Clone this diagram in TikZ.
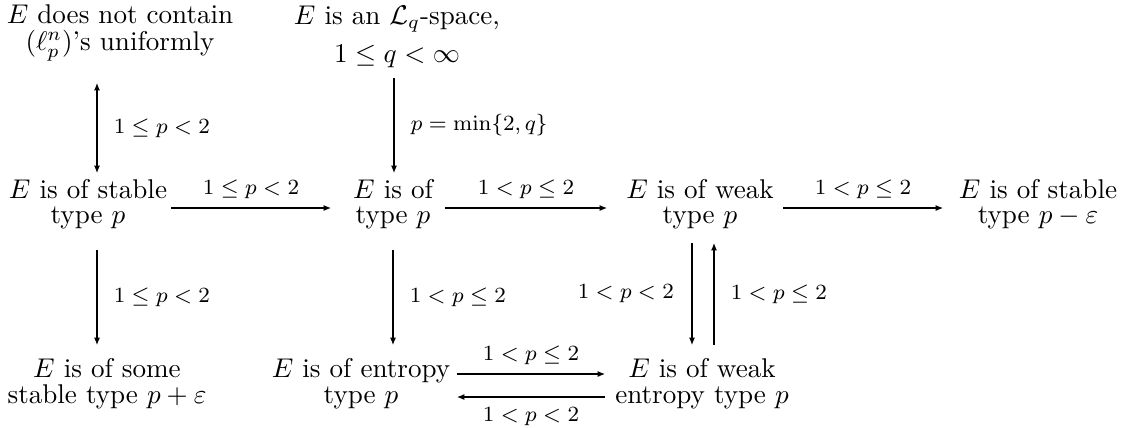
\documentclass[tikz,border=0pt]{standalone}
\usetikzlibrary{arrows.meta}
\begin{document}
\begin{tikzpicture}[x=0.369pt,y=-0.369pt,
  box/.style={align=center,inner sep=0pt,font=\fontsize{10}{9.1}\selectfont},
  lab/.style={inner sep=0pt,font=\footnotesize},
  arr/.style={line width=0.4pt,-{Latex[length=2.7pt,width=2.2pt]}},
  darr/.style={line width=0.4pt,{Latex[length=2.7pt,width=2.2pt]}-{Latex[length=2.7pt,width=2.2pt]}},
  rlab/.style={lab,midway,anchor=west,xshift=6pt},
  llab/.style={lab,midway,anchor=east,xshift=-6.5pt},
  alab/.style={lab,midway,yshift=7pt},
  blab/.style={lab,midway,yshift=-7.4pt}]
\useasboundingbox (0,0) rectangle (1135,427);
% nodes
\node[box] (A) at (120,33) {$E$ does not contain\\[0.8pt]$(\ell_p^n)$'s uniformly};
\node[box] (B) at (397,37) {$E$ is an $\mathcal{L}_q$-space,\\[3.8pt]$1\le q<\infty$};
\node[box] (C) at (88,204) {$E$ is of stable\\type $p$};
\node[box] (D) at (393,204) {$E$ is of\\type $p$};
\node[box] (F) at (700,204) {$E$ is of weak\\type $p$};
\node[box] (G) at (1038,204) {$E$ is of stable\\type $p-\varepsilon$};
\node[box] (H) at (107,383.5) {$E$ is of some\\[0.7pt]stable type $p+\varepsilon$};
\node[box] (I) at (361,383.5) {$E$ is of entropy\\[0.7pt]type $p$};
\node[box] (J) at (702,383.5) {$E$ is of weak\\[0.7pt]entropy type $p$};
% vertical connectors
\draw[darr] ([shift={(-23,50)}]A.center) -- ([shift={(9,-31)}]C.center)
  node[rlab] (l1) {$1\le p<2$};
\draw[arr] ([shift={(-3,41)}]B.center) -- ([shift={(1,-31)}]D.center)
  node[rlab] (l2) {$p=\min\{2,q\}$};
\draw[arr] ([shift={(9,46)}]C.center) -- ([shift={(-10,-38.5)}]H.center)
  node[rlab] (l3) {$1\le p<2$};
\draw[arr] ([shift={(0,46)}]D.center) -- ([shift={(32,-38.5)}]I.center)
  node[rlab] (l4) {$1<p\le 2$};
\draw[arr] ([shift={(-8,39)}]F.center) -- ([shift={(-10,-38.5)}]J.center)
  node[llab] (l5) {$1<p<2$};
\draw[arr] ([shift={(12,-38.5)}]J.center) -- ([shift={(14,39)}]F.center)
  node[rlab] (l6) {$1<p\le 2$};
% horizontal connectors
\draw[arr] ([shift={(83,4)}]C.center) -- ([shift={(-62,4)}]D.center)
  node[alab] (l7) {$1\le p<2$};
\draw[arr] ([shift={(52,4)}]D.center) -- ([shift={(-93,4)}]F.center)
  node[alab] (l8) {$1<p\le 2$};
\draw[arr] ([shift={(83,4)}]F.center) -- ([shift={(-95,4)}]G.center)
  node[alab] (l9) {$1<p\le 2$};
\draw[arr] ([shift={(96,-9.5)}]I.center) -- ([shift={(-97,-9.5)}]J.center)
  node[alab] (l10) {$1<p\le 2$};
\draw[arr] ([shift={(-97,13.5)}]J.center) -- ([shift={(96,13.5)}]I.center)
  node[blab] (l11) {$1<p<2$};
\end{tikzpicture}
\end{document}
